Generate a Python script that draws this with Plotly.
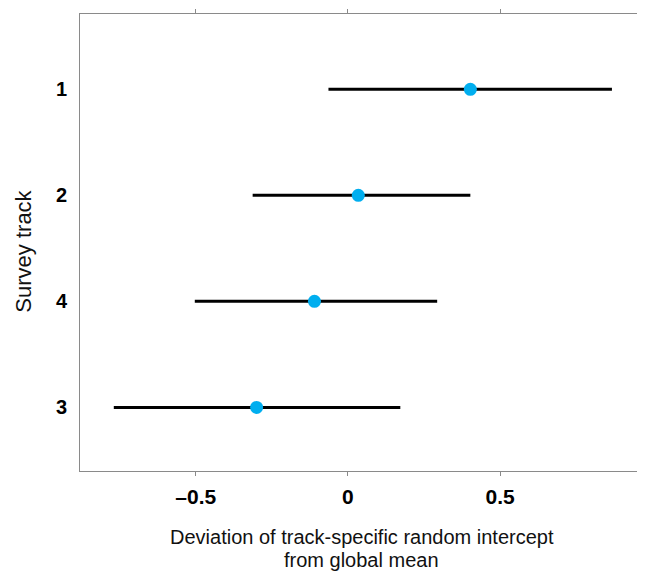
import plotly.graph_objects as go

tracks = ["1", "2", "4", "3"]
estimates = [0.402, 0.034, -0.110, -0.300]
lower = [-0.064, -0.313, -0.503, -0.769]
upper = [0.867, 0.402, 0.293, 0.172]

err_plus = [u - e for u, e in zip(upper, estimates)]
err_minus = [e - l for e, l in zip(estimates, lower)]

FONT = "Liberation Sans, Arial, Helvetica, sans-serif"
GRAY = "#8a8a8a"

fig = go.Figure()
fig.add_trace(go.Scatter(
    x=estimates, y=tracks, mode="markers",
    marker=dict(size=13, color="#00AEEF", line=dict(width=0)),
    error_x=dict(type="data", symmetric=False, array=err_plus, arrayminus=err_minus,
                 color="black", thickness=3, width=0),
    showlegend=False,
))

fig.update_layout(
    width=637, height=565,
    margin=dict(l=72, r=1, t=1, b=102),
    paper_bgcolor="white", plot_bgcolor="white",
    font=dict(family=FONT, color="black"),
    xaxis=dict(
        range=[-0.880, 0.969], tickvals=[-0.5, 0, 0.5], ticktext=["\u20130.5", "0", "0.5"],
        showgrid=False, zeroline=False, showline=True, linecolor=GRAY, linewidth=1,
        mirror="ticks", ticks="outside", ticklen=4, tickcolor=GRAY, tickwidth=1,
        tickfont=dict(size=21, family=FONT, color="black", weight="bold"),
        ticklabelstandoff=3,
        title=dict(text=""),
    ),
    yaxis=dict(
        type="category", categoryorder="array", categoryarray=["3", "4", "2", "1"],
        range=[-0.6, 3.71],
        showgrid=False, zeroline=False, showline=True, linecolor=GRAY, linewidth=1,
        mirror=True, ticks="",
        tickfont=dict(size=20, family=FONT, color="black", weight="bold"),
        ticklabelstandoff=8,
        title=dict(text=""),
    ),
    annotations=[
        dict(text="Survey track", xref="paper", yref="paper", x=0, y=0.48,
             xanchor="center", yanchor="middle", xshift=-56, textangle=-90, showarrow=False,
             font=dict(size=22, family=FONT, color="#111")),
        dict(text="Deviation of track-specific random intercept", xref="paper", yref="paper",
             x=0.5, y=0, xanchor="center", yanchor="middle", yshift=-66, showarrow=False,
             font=dict(size=20, family=FONT, color="#111")),
        dict(text="from global mean", xref="paper", yref="paper",
             x=0.5, y=0, xanchor="center", yanchor="middle", yshift=-89, showarrow=False,
             font=dict(size=20, family=FONT, color="#111")),
    ],
)

fig.write_html("out.html")
